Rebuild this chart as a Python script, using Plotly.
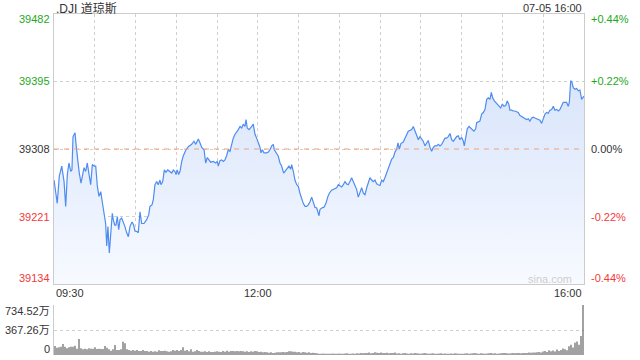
import plotly.graph_objects as go

# ---------------- data ----------------
title_text = ".DJI 道琼斯"
date_text = "07-05 16:00"
prev_close = 39308
price_ticks = [39134, 39221, 39308, 39395, 39482]
vol_ticks = [0, 367.26, 734.52]
vol_tick_labels = ["0", "367.26万", "734.52万"]
x_tick_minutes = [0, 150, 390]
x_tick_labels = ["09:30", "12:00", "16:00"]

# minutes after 09:30
minutes = [
    0, 2.4, 3.9, 5.7, 7.4, 8.6, 9.8, 11.0, 12.3, 13.2,
    14.0, 15.5, 16.2, 17.4, 18.6, 19.9, 20.8, 22.1, 23.3, 24.5,
    25.8, 27.0, 28.2, 29.4, 30.7, 31.9, 33.1, 34.4, 35.5, 36.8,
    38.0, 38.8, 39.7, 40.7, 41.7, 42.9, 43.6, 44.7, 45.6, 46.6,
    47.6, 48.6, 49.8, 51.0, 52.2, 53.5, 54.7, 55.9, 57.4, 58.6,
    59.6, 60.9, 62.0, 63.3, 64.5, 66.2, 68.2, 69.7, 70.6, 72.1,
    73.1, 74.3, 75.6, 76.7, 78.0, 78.7, 80.0, 81.2, 82.4, 83.7,
    84.8, 86.6, 87.8, 89.0, 89.8, 90.7, 91.7, 92.7, 94.0, 95.1,
    97.1, 98.8,
    101.3, 103.0, 104.3, 106.2, 107.4, 108.7, 110.4, 111.6, 112.8, 114.0,
    115.3, 117.2, 119.0, 120.2, 120.9, 122.1, 123.4, 124.6, 125.8, 127.1,
    128.2, 129.5, 130.8, 131.9, 133.2, 134.4, 135.6, 136.9, 138.1, 139.3,
    140.5, 141.3, 142.2, 143.5, 144.7, 145.5, 146.6, 147.9, 149.1, 150.3,
    151.6, 152.3, 153.3, 154.5, 156.5, 157.7, 158.9, 160.2, 161.4, 162.1,
    163.3, 165.0, 166.3, 167.5, 169.0, 170.5, 171.7, 172.9, 174.2, 174.9,
    176.1, 177.3, 178.6, 179.8, 181.0, 182.3, 183.4, 184.7, 185.9, 187.1,
    188.4, 189.6, 190.8, 192.0, 193.3, 195.0, 195.7, 197.0, 198.7, 200.1,
    201.4, 202.6, 204.3, 206.0, 208.0, 209.2, 210.4, 211.7, 212.9, 214.1,
    215.4, 216.5, 217.8, 219.0, 220.2, 221.5, 222.7, 223.9, 225.2, 226.4,
    227.6, 228.8, 230.1, 231.3, 232.5, 233.8, 234.9, 236.2, 237.4, 238.6,
    239.9, 241.1, 242.3, 243.5, 244.8, 246.0, 247.2, 248.5, 249.7, 250.9,
    252.2, 253.1, 254.1, 255.3, 257.0, 258.3, 259.5, 260.7, 262.0, 263.2,
    264.4, 265.6, 266.9, 268.1, 269.3, 270.6, 271.7, 273.0, 274.2, 275.4,
    276.7, 277.9, 279.1, 280.3, 281.6, 282.8, 284.0, 285.3, 286.5, 287.7,
    288.9, 290.1, 291.4, 292.6, 293.8, 295.1, 296.3, 297.5, 298.7, 300.0,
    301.2, 301.9, 302.9, 304.1, 305.4, 306.6, 307.8, 309.0, 310.3, 311.0,
    312.2, 313.4, 314.7, 315.9, 317.1, 318.4, 319.6, 320.8, 321.8, 322.8,
    324.0, 325.2, 326.5, 327.7, 328.7, 329.9, 331.1, 332.4, 333.5, 334.6,
    335.5, 336.8, 337.9, 339.2, 340.4, 341.6, 342.9, 344.1, 345.3, 346.6,
    347.8, 349.0, 350.2, 351.5, 352.7, 353.9, 355.2, 356.3, 357.6, 358.8,
    360.0, 361.3, 362.5, 363.7, 364.9, 366.2, 367.4, 368.6, 369.9, 371.1,
    372.3, 373.5, 374.7, 376.0, 377.2, 378.4, 379.2, 380.2, 381.1, 382.1,
    383.4, 384.6, 385.8, 387.0, 388.3, 389.0, 390.0,
]

prices = [
    39268, 39238, 39273, 39286, 39266, 39234, 39275, 39290, 39279, 39281,
    39324, 39329, 39314, 39290, 39277, 39264, 39271, 39284, 39279, 39290,
    39275, 39262, 39288, 39286, 39286, 39260, 39247, 39253, 39240, 39227,
    39212, 39183, 39208, 39174, 39195, 39225, 39217, 39210, 39210, 39221,
    39204, 39217, 39219, 39214, 39208, 39200, 39195, 39208, 39214, 39210,
    39202, 39202, 39200, 39227, 39212, 39212, 39217, 39223, 39234, 39236,
    39243, 39262, 39266, 39262, 39268, 39262, 39266, 39281, 39278, 39281,
    39279, 39277, 39281, 39279, 39275, 39281, 39275, 39279, 39292, 39299,
    39307, 39311,
    39314, 39318, 39314, 39321, 39316, 39310, 39307, 39290, 39297, 39294,
    39291, 39292, 39290, 39292, 39286, 39293, 39294, 39292, 39294, 39300,
    39307, 39305, 39316, 39322, 39327, 39331, 39333, 39337, 39335, 39340,
    39337, 39346, 39335, 39333, 39335, 39337, 39340, 39327, 39322, 39316,
    39310, 39303, 39307, 39303, 39303, 39304, 39307, 39312, 39314, 39307,
    39303, 39299, 39290, 39286, 39277, 39281, 39284, 39286, 39282, 39288,
    39279, 39268, 39262, 39260, 39251, 39243, 39238, 39234, 39234, 39236,
    39240, 39246, 39238, 39233, 39232, 39222, 39230, 39232, 39233, 39238,
    39246, 39251, 39255, 39256, 39258, 39262, 39260, 39259, 39262, 39266,
    39263, 39262, 39266, 39271, 39266, 39260, 39256, 39246, 39253, 39258,
    39251, 39249, 39258, 39266, 39271, 39268, 39266, 39268, 39263, 39262,
    39261, 39268, 39266, 39271, 39277, 39281, 39289, 39295, 39297, 39304,
    39308, 39316, 39308, 39315, 39317, 39322, 39328, 39331, 39332, 39333,
    39337, 39331, 39324, 39320, 39324, 39320, 39318, 39312, 39316, 39319,
    39310, 39305, 39310, 39312, 39312, 39314, 39312, 39314, 39318, 39322,
    39322, 39324, 39328, 39320, 39318, 39322, 39324, 39325, 39320, 39323,
    39318, 39312, 39324, 39334, 39337, 39335, 39332, 39331, 39334, 39342,
    39343, 39344, 39353, 39355, 39359, 39372, 39374, 39372, 39381, 39374,
    39370, 39368, 39366, 39363, 39361, 39366, 39363, 39364, 39370, 39366,
    39358, 39358, 39357, 39357, 39356, 39355, 39351, 39350, 39349, 39348,
    39346, 39347, 39344, 39348, 39349, 39348, 39347, 39346, 39345, 39341,
    39346, 39353, 39355, 39354, 39358, 39359, 39363, 39358, 39359, 39357,
    39359, 39363, 39368, 39368, 39368, 39363, 39368, 39396, 39394, 39387,
    39385, 39386, 39383, 39384, 39372, 39374, 39376,
]

# volume bars (万)
volumes = [
    132, 108, 113, 122, 162, 122, 98, 113, 122, 122,
    137, 93, 235, 98, 83, 93, 83, 98, 93, 93,
    113, 88, 93, 88, 88, 132, 108, 83, 64, 83,
    147, 73, 73, 83, 196, 172, 83, 73, 64, 73,
    64, 73, 59, 59, 73, 59, 59, 49, 59, 49,
    54, 49, 69, 59, 59, 64, 54, 49, 54, 73,
    64, 73, 59, 73, 113, 64, 73, 54, 83, 49,
    54, 73, 59, 49, 49, 54, 44, 54, 44, 44,
    49, 54, 49, 44, 59, 49, 64, 49, 59, 59,
    54, 59, 54, 59, 54, 49, 54, 44, 54, 49,
    59, 54, 44, 49, 39, 44, 39, 34, 39, 29,
    34, 39, 39, 39, 44, 39, 44, 54, 54, 49,
    49, 39, 44, 34, 44, 39, 34, 39, 29, 34,
    29, 24,
    20, 18, 22, 18, 20, 17, 20, 22, 18, 20,
    22, 20, 18, 22, 25, 20, 18, 22, 20, 25,
    22, 28, 25, 30, 28, 35, 25, 30, 40, 32,
    28, 35, 30, 28, 32, 25, 30, 28, 35, 22,
    25, 20, 24, 28, 22, 20, 25, 22, 30, 25,
    22, 20, 25, 28, 22, 20, 22, 25, 20, 18,
    22, 25, 20, 22, 20, 18, 22, 20, 25, 22,
    20, 18, 20, 22, 25, 20, 22, 25, 28, 22,
    20, 25, 22, 20, 22, 25, 28, 22, 25, 20,
    22, 25, 28, 30, 25, 22, 25, 28, 25, 30,
    28, 25, 30, 28, 30, 35, 32, 38, 35, 40,
    45, 38, 50, 60, 45, 70, 55, 65, 50, 80,
    60, 75, 95, 85, 70, 130, 150, 110, 180, 200,
    150, 280, 734.52,
]

# ---------------- styling ----------------
FONT = "'Liberation Sans', Arial, 'Noto Sans CJK SC', sans-serif"
GREEN = "#1ea81e"
RED = "#f23a3a"
DARK = "#333333"
GRID = "#d0d0d0"
BORDER = "#cccccc"

W, H = 640, 360
ML, MR = 54, 56
price_top, price_bot = 14, 284
vol_top, vol_bot = 305, 355


def frac(px):
    return 1 - px / H


fig = go.Figure()

fig.add_trace(go.Scatter(
    x=minutes, y=prices, mode="lines",
    line=dict(color="#4f8cf0", width=1.2),
    fill="tozeroy",
    fillgradient=dict(
        type="vertical",
        colorscale=[[0, "rgba(247,250,255,1)"], [1, "rgba(217,229,251,1)"]],
        start=price_ticks[0], stop=max(prices),
    ),
    xaxis="x", yaxis="y", hoverinfo="skip", showlegend=False,
))

n = len(volumes)
fig.add_trace(go.Bar(
    x=list(range(n)), y=volumes, marker=dict(color="#555555", line=dict(width=0)),
    xaxis="x2", yaxis="y2", hoverinfo="skip", showlegend=False,
))

# prev close dashed line
fig.add_shape(type="line", xref="x", yref="y", x0=0, x1=390,
              y0=prev_close, y1=prev_close,
              line=dict(color="#f0a078", width=1, dash="5px,5px"))

annotations = []
# left price labels & right percent labels
for i, v in enumerate(price_ticks):
    if v > prev_close:
        col = GREEN
    elif v < prev_close:
        col = RED
    else:
        col = DARK
    shift = 0
    if i == 0:
        shift = 6
    elif i == len(price_ticks) - 1:
        shift = -5
    pct = (v - prev_close) / prev_close * 100
    pct_txt = ("+" if pct > 0.0001 else "") + f"{pct:.2f}%"
    annotations.append(dict(x=0, xref="paper", y=v, yref="y", text=str(v),
                            xanchor="right", yanchor="middle", xshift=-2, yshift=shift,
                            showarrow=False, font=dict(color=col, size=11, family=FONT)))
    annotations.append(dict(x=1, xref="paper", y=v, yref="y", text=pct_txt,
                            xanchor="left", yanchor="middle", xshift=5, yshift=shift,
                            showarrow=False, font=dict(color=col, size=11, family=FONT)))

# volume labels
for v, t in zip(vol_ticks, vol_tick_labels):
    shift = 0
    if v == vol_ticks[0]:
        shift = 6
    elif v == vol_ticks[-1]:
        shift = -6
    annotations.append(dict(x=0, xref="paper", y=v, yref="y2", text=t,
                            xanchor="right", yanchor="middle", xshift=-2, yshift=shift,
                            showarrow=False, font=dict(color=DARK, size=11, family=FONT)))

# x tick labels
anchors = ["left", "center", "right"]
for m, t, a in zip(x_tick_minutes, x_tick_labels, anchors):
    annotations.append(dict(x=m, xref="x", y=frac(293), yref="paper", text=t,
                            xanchor=a, yanchor="middle", showarrow=False,
                            font=dict(color=DARK, size=11, family=FONT)))

# title, date, watermark
annotations.append(dict(x=0, xref="paper", y=frac(8), yref="paper", text=title_text,
                        xanchor="left", yanchor="middle", showarrow=False, xshift=0,
                        font=dict(color=DARK, size=12, family=FONT)))
annotations.append(dict(x=1, xref="paper", y=frac(8), yref="paper", text=date_text,
                        xanchor="right", yanchor="middle", showarrow=False,
                        font=dict(color=DARK, size=11, family=FONT)))
annotations.append(dict(x=1, xref="paper", y=frac(279), yref="paper", text="sina.com",
                        xanchor="right", yanchor="middle", showarrow=False, xshift=-10,
                        font=dict(color="#cfcfcf", size=11, family=FONT)))

fig.update_layout(
    width=W, height=H,
    margin=dict(l=ML, r=MR, t=0, b=0, pad=0),
    paper_bgcolor="white", plot_bgcolor="white",
    font=dict(family=FONT, size=11, color=DARK),
    bargap=0.45,
    hovermode=False,
    xaxis=dict(domain=[0, 1], range=[0, 390], anchor="y",
               tickvals=list(range(30, 390, 30)), showticklabels=False, ticks="",
               showgrid=True, gridcolor=GRID, griddash="dot", gridwidth=1,
               showline=True, mirror=True, linecolor=BORDER, linewidth=1, zeroline=False),
    yaxis=dict(domain=[frac(price_bot), frac(price_top)], range=[price_ticks[0], price_ticks[-1]],
               anchor="x", tickvals=price_ticks, showticklabels=False, ticks="",
               showgrid=True, gridcolor=GRID, griddash="dot", gridwidth=1,
               showline=True, mirror=True, linecolor=BORDER, linewidth=1, zeroline=False),
    xaxis2=dict(domain=[0, 1], range=[-0.5, n - 0.5], anchor="y2",
                showticklabels=False, ticks="", showgrid=False, showline=False, zeroline=False),
    yaxis2=dict(domain=[frac(vol_bot), frac(vol_top)], range=[0, vol_ticks[-1]], anchor="x2",
                tickvals=vol_ticks[1:], showticklabels=False, ticks="",
                showgrid=True, gridcolor=GRID, griddash="dot", gridwidth=1,
                showline=True, linecolor=BORDER, linewidth=1, zeroline=False),
    annotations=annotations,
)

fig.write_html("out.html",
               config={"displayModeBar": False, "staticPlot": True},
               post_script="document.body.style.margin='0';document.body.style.padding='0';")
